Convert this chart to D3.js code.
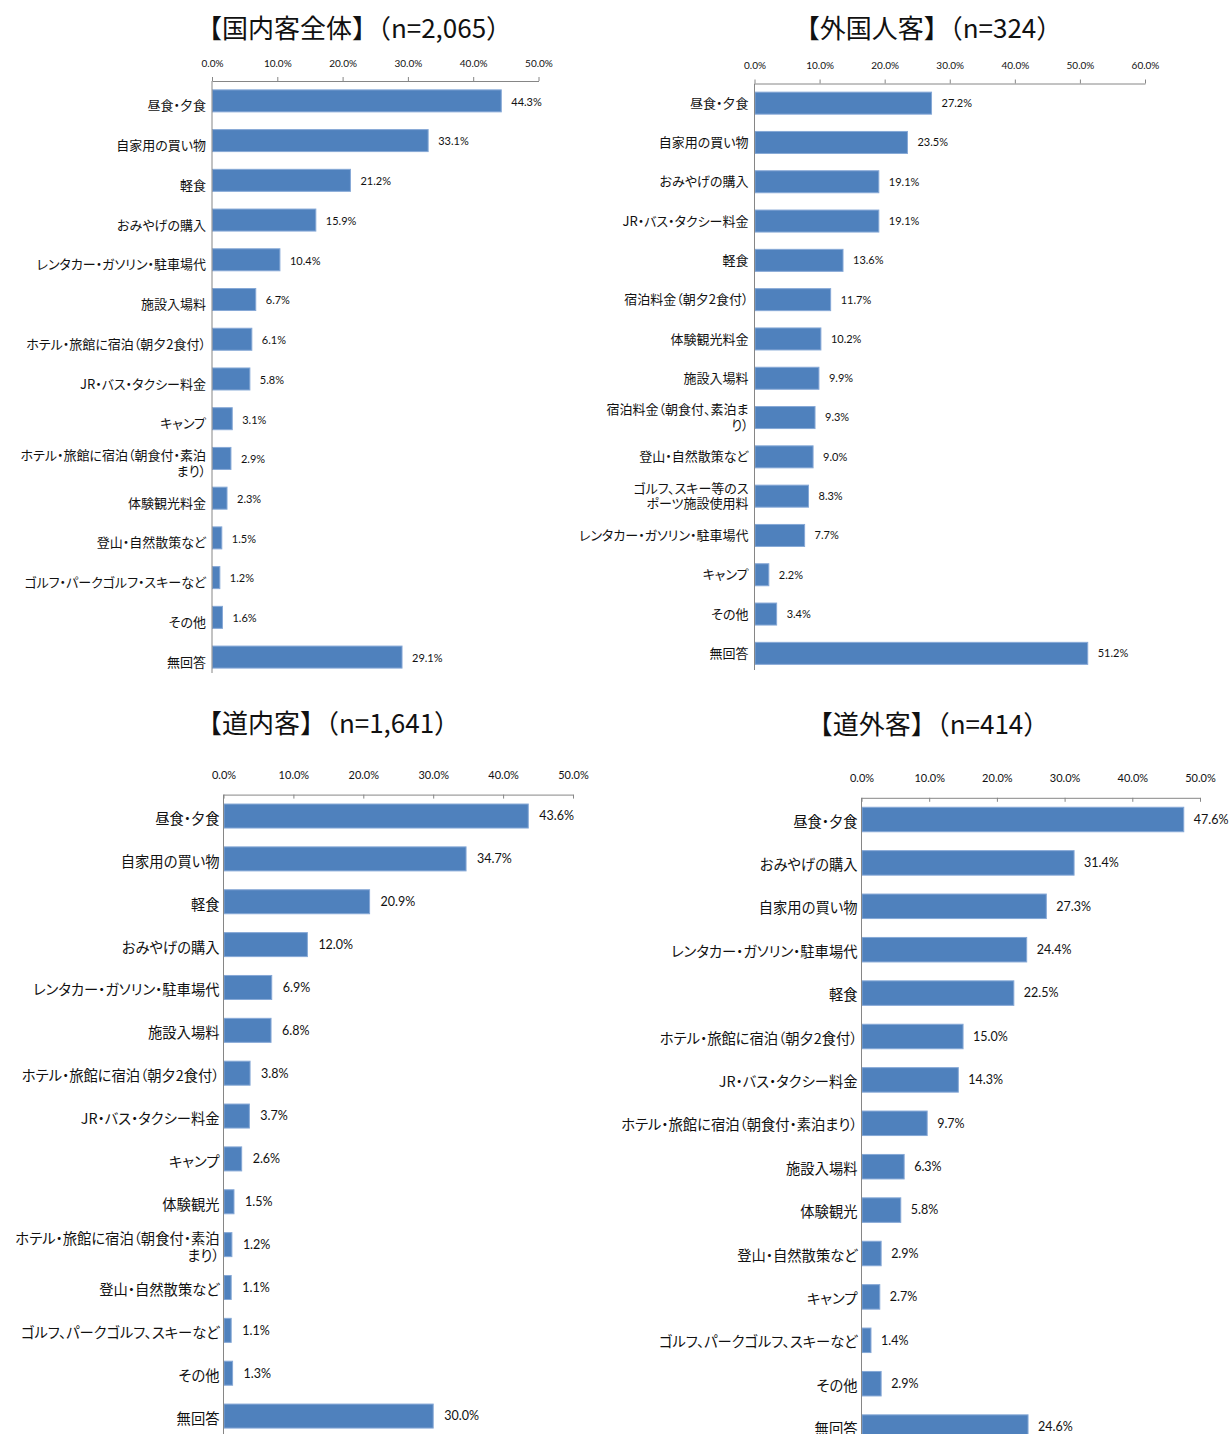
<!DOCTYPE html>
<html lang="ja">
<head>
<meta charset="utf-8">
<script src="https://cdn.jsdelivr.net/npm/d3@7"></script>
<style>
  html, body { margin: 0; padding: 0; background: #fff; }
  svg { display: block; }
  .cat { font-family: "Noto Sans CJK JP", sans-serif; font-feature-settings: "palt"; fill: #111; }
  .title { font-family: "Noto Sans CJK JP", sans-serif; fill: #111; }
  .num { font-family: Lato, "Noto Sans", sans-serif; fill: #111; }
</style>
</head>
<body>
<script>
// 国内客全体 (n=2,065)
const categoriesAll = ["昼食・夕食", "自家用の買い物", "軽食", "おみやげの購入", "レンタカー・ガソリン・駐車場代",
  "施設入場料", "ホテル・旅館に宿泊（朝夕2食付）", "JR・バス・タクシー料金", "キャンプ",
  "ホテル・旅館に宿泊（朝食付・素泊\nまり）", "体験観光料金", "登山・自然散策など",
  "ゴルフ・パークゴルフ・スキーなど", "その他", "無回答"];
const valuesAll = [44.3, 33.1, 21.2, 15.9, 10.4, 6.7, 6.1, 5.8, 3.1, 2.9, 2.3, 1.5, 1.2, 1.6, 29.1];
const ticksAll = [0, 10, 20, 30, 40, 50];

// 外国人客 (n=324)
const categoriesForeign = ["昼食・夕食", "自家用の買い物", "おみやげの購入", "JR・バス・タクシー料金", "軽食",
  "宿泊料金（朝夕2食付）", "体験観光料金", "施設入場料", "宿泊料金（朝食付、素泊ま\nり）",
  "登山・自然散策など", "ゴルフ、スキー等のス\nポーツ施設使用料", "レンタカー・ガソリン・駐車場代",
  "キャンプ", "その他", "無回答"];
const valuesForeign = [27.2, 23.5, 19.1, 19.1, 13.6, 11.7, 10.2, 9.9, 9.3, 9.0, 8.3, 7.7, 2.2, 3.4, 51.2];
const ticksForeign = [0, 10, 20, 30, 40, 50, 60];

// 道内客 (n=1,641)
const categoriesInside = ["昼食・夕食", "自家用の買い物", "軽食", "おみやげの購入", "レンタカー・ガソリン・駐車場代",
  "施設入場料", "ホテル・旅館に宿泊（朝夕2食付）", "JR・バス・タクシー料金", "キャンプ", "体験観光",
  "ホテル・旅館に宿泊（朝食付・素泊\nまり）", "登山・自然散策など", "ゴルフ、パークゴルフ、スキーなど",
  "その他", "無回答"];
const valuesInside = [43.6, 34.7, 20.9, 12.0, 6.9, 6.8, 3.8, 3.7, 2.6, 1.5, 1.2, 1.1, 1.1, 1.3, 30.0];
const ticksInside = [0, 10, 20, 30, 40, 50];

// 道外客 (n=414)
const categoriesOutside = ["昼食・夕食", "おみやげの購入", "自家用の買い物", "レンタカー・ガソリン・駐車場代", "軽食",
  "ホテル・旅館に宿泊（朝夕2食付）", "JR・バス・タクシー料金", "ホテル・旅館に宿泊（朝食付・素泊まり）",
  "施設入場料", "体験観光", "登山・自然散策など", "キャンプ", "ゴルフ、パークゴルフ、スキーなど",
  "その他", "無回答"];
const valuesOutside = [47.6, 31.4, 27.3, 24.4, 22.5, 15.0, 14.3, 9.7, 6.3, 5.8, 2.9, 2.7, 1.4, 2.9, 24.6];
const ticksOutside = [0, 10, 20, 30, 40, 50];

const titles = ["【国内客全体】（n=2,065）", "【外国人客】（n=324）", "【道内客】（n=1,641）", "【道外客】（n=414）"];

const W = 1230, H = 1434;
const BAR = "#4f81bd", BAR_EDGE = "#86a8d6", AXIS = "#868686";

const svg = d3.select("body").append("svg").attr("width", W).attr("height", H);
svg.append("rect").attr("width", W).attr("height", H).attr("fill", "#fff");

function panel(cfg) {
  const g = svg.append("g");
  const n = cfg.categories.length;
  const x = d3.scaleLinear().domain([0, d3.max(cfg.ticks)]).range([cfg.x0, cfg.x1]);
  const pad = 1 - cfg.barH / cfg.step;
  const y = d3.scaleBand().domain(cfg.categories)
    .range([cfg.top, cfg.top + n * cfg.step])
    .paddingInner(pad).paddingOuter(pad / 2);

  // title
  g.append("text").attr("class", "title")
    .attr("x", cfg.titleX).attr("y", cfg.titleY)
    .attr("text-anchor", "middle").attr("dominant-baseline", "central")
    .attr("font-size", cfg.titleSize)
    .text(cfg.title);

  // bars
  g.selectAll("rect.bar").data(cfg.values).join("rect")
    .attr("class", "bar")
    .attr("x", x(0) + 0.5)
    .attr("y", (d, i) => y(cfg.categories[i]))
    .attr("width", d => Math.max(0, x(d) - x(0) - 0.5))
    .attr("height", y.bandwidth())
    .attr("fill", BAR).attr("stroke", BAR_EDGE).attr("stroke-width", 1);

  // value axis on top
  const axis = d3.axisTop(x).tickValues(cfg.ticks)
    .tickFormat(d => d.toFixed(1) + "%")
    .tickSizeInner(cfg.tickDir * 4).tickSizeOuter(0);
  const ax = g.append("g").attr("transform", `translate(0,${cfg.top})`).call(axis);
  ax.select(".domain").attr("stroke", AXIS);
  ax.selectAll(".tick line").attr("stroke", AXIS);
  ax.selectAll(".tick text")
    .attr("class", "num")
    .attr("font-size", cfg.tickSize)
    .attr("y", cfg.tickLabelY - cfg.top)
    .attr("dy", "0.35em")
    .attr("fill", "#111");

  // category axis line
  g.append("line")
    .attr("x1", x(0)).attr("x2", x(0))
    .attr("y1", cfg.top).attr("y2", Math.min(cfg.top + n * cfg.step, cfg.axisEnd))
    .attr("stroke", AXIS).attr("stroke-width", 1);

  // category labels (some wrap onto two lines)
  cfg.categories.forEach((c, i) => {
    const lines = c.split("\n");
    const cy = y(c) + y.bandwidth() / 2 + cfg.labelShift;
    const t = g.append("text").attr("class", "cat")
      .attr("x", x(0) - cfg.labelGap)
      .attr("text-anchor", "end")
      .attr("font-size", cfg.catSize);
    lines.forEach((ln, k) => {
      t.append("tspan")
        .attr("x", x(0) - cfg.labelGap)
        .attr("y", cy + (k - (lines.length - 1) / 2) * cfg.lineH)
        .attr("dy", "0.35em")
        .text(ln);
    });
  });

  // value labels
  g.selectAll("text.val").data(cfg.values).join("text")
    .attr("class", "num val")
    .attr("x", d => x(d) + cfg.valGap)
    .attr("y", (d, i) => y(cfg.categories[i]) + y.bandwidth() / 2 + cfg.valShift)
    .attr("dy", "0.35em")
    .attr("font-size", cfg.valSize)
    .text(d => d.toFixed(1) + "%");
}

panel({ title: titles[0], categories: categoriesAll, values: valuesAll, ticks: ticksAll,
  x0: 212, x1: 538.5, top: 81, step: 39.73, barH: 22, axisEnd: 673,
  titleX: 354, titleY: 26, titleSize: 26, tickLabelY: 63, tickSize: 10, tickDir: 1,
  catSize: 13, labelGap: 6, labelShift: 5, lineH: 15.5, valSize: 11, valGap: 10, valShift: 1 });

panel({ title: titles[1], categories: categoriesForeign, values: valuesForeign, ticks: ticksForeign,
  x0: 754.5, x1: 1145, top: 83.5, step: 39.3, barH: 22, axisEnd: 670,
  titleX: 928, titleY: 26, titleSize: 26, tickLabelY: 65, tickSize: 10, tickDir: 1,
  catSize: 13, labelGap: 6, labelShift: 0, lineH: 15.5, valSize: 11, valGap: 10, valShift: 0 });

panel({ title: titles[2], categories: categoriesInside, values: valuesInside, ticks: ticksInside,
  x0: 223.5, x1: 573, top: 794.6, step: 42.86, barH: 24, axisEnd: 1434,
  titleX: 328, titleY: 721, titleSize: 26, tickLabelY: 775, tickSize: 11, tickDir: -1,
  catSize: 14.3, labelGap: 4, labelShift: 3, lineH: 16.5, valSize: 12.5, valGap: 11, valShift: 0 });

panel({ title: titles[3], categories: categoriesOutside, values: valuesOutside, ticks: ticksOutside,
  x0: 861.5, x1: 1200, top: 797.8, step: 43.4, barH: 24.5, axisEnd: 1434,
  titleX: 928, titleY: 722, titleSize: 26, tickLabelY: 778, tickSize: 11, tickDir: -1,
  catSize: 14.3, labelGap: 4, labelShift: 2, lineH: 16.5, valSize: 12.5, valGap: 10, valShift: 0 });
</script>
</body>
</html>
